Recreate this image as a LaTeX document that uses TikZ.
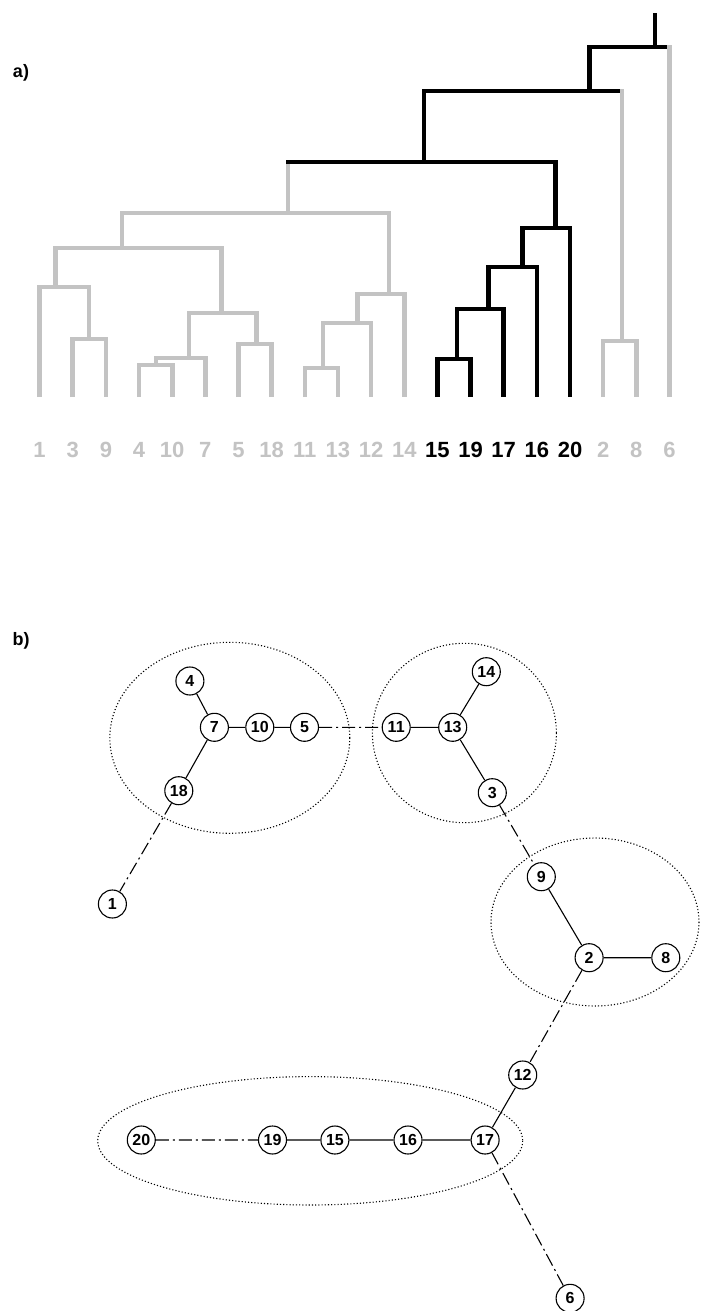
\documentclass[tikz,border=0pt]{standalone}
\usepackage{fontspec}
\setmainfont{Liberation Sans}
\usepackage{xcolor}
\usepackage{tikz}
\usetikzlibrary{positioning}

\definecolor{dendgray}{RGB}{195,195,195}

\begin{document}
\begin{tikzpicture}[x=1pt, y=-1pt,
    vert/.style={circle, draw, line width=1.1pt, minimum size=28pt, inner sep=0pt, font=\bfseries\fontsize{16}{16}\selectfont},
    link/.style={line width=1.1pt},
    jump/.style={line width=1.1pt, dash pattern=on 13pt off 4pt on 2pt off 4pt},
    group/.style={line width=1.1pt, dash pattern=on 1.1pt off 2.1pt},
    branch/.style={line width=4.6pt},
    leaf/.style={font=\bfseries\fontsize{22}{22}\selectfont, inner sep=0pt},
    panel/.style={font=\bfseries\fontsize{18}{18}\selectfont, inner sep=0pt}]
    \useasboundingbox (0,0) rectangle (706,1311);

    % a) dendrogram
    \node[panel] (pa) at (21,73) {a)};
    \foreach \lab/\col [count=\i from 0] in {1/dendgray,3/dendgray,9/dendgray,4/dendgray,10/dendgray,7/dendgray,5/dendgray,18/dendgray,11/dendgray,13/dendgray,12/dendgray,14/dendgray,15/black,19/black,17/black,16/black,20/black,2/dendgray,8/dendgray,6/dendgray}{
        \coordinate (L\lab) at ({39.6+33.15*\i},397);
        \node[leaf, text=\col] (t\lab) at ({39.6+33.15*\i},450) {\lab};
    }
    \coordinate (m39) at (88.9,339);
    \coordinate (m139) at (55.2,287);
    \coordinate (m410) at (156,365);
    \coordinate (m4107) at (189,358);
    \coordinate (m518) at (256.6,344);
    \coordinate (mB) at (221.7,313);
    \coordinate (mA) at (122,248);
    \coordinate (m1113) at (323,368);
    \coordinate (m12) at (357.5,323);
    \coordinate (m14) at (389,294);
    \coordinate (mG) at (288,213);
    \coordinate (m1519) at (457,359);
    \coordinate (m17) at (488.7,309);
    \coordinate (m16) at (522.6,267);
    \coordinate (m20) at (555.7,228);
    \coordinate (mX) at (424,162);
    \coordinate (m28) at (622,341);
    \coordinate (mY) at (589.6,91);
    \coordinate (mR) at (655,47);
    \coordinate (root) at (655,13);

    \draw[branch, dendgray] (L3) |- (m39) -| (L9);
    \draw[branch, dendgray] (L1) |- (m139) -| (m39);
    \draw[branch, dendgray] (L4) |- (m410) -| (L10);
    \draw[branch, dendgray] (m410) |- (m4107) -| (L7);
    \draw[branch, dendgray] (L5) |- (m518) -| (L18);
    \draw[branch, dendgray] (m4107) |- (mB) -| (m518);
    \draw[branch, dendgray] (m139) |- (mA) -| (mB);
    \draw[branch, dendgray] (L11) |- (m1113) -| (L13);
    \draw[branch, dendgray] (m1113) |- (m12) -| (L12);
    \draw[branch, dendgray] (m12) |- (m14) -| (L14);
    \draw[branch, dendgray] (mA) |- (mG) -| (m14);
    \draw[branch, dendgray] (L2) |- (m28) -| (L8);
    \draw[branch, dendgray] (mG) -- (mG |- mX);

    \draw[branch] (L15) |- (m1519) -| (L19);
    \draw[branch] (m1519) |- (m17) -| (L17);
    \draw[branch] (m17) |- (m16) -| (L16);
    \draw[branch] (m16) |- (m20) -| (L20);
    \draw[branch, line cap=rect] (mG |- mX) -| (m20);
    \draw[branch] (mX) |- (mY) -- (m28 |- mY);
    \draw[branch] (mY) |- (mR) -- (L6 |- mR);
    \draw[branch] (mR) -- (root);
    \draw[branch, dendgray, shorten >=-2.3pt] (m28) -- (m28 |- mY);
    \draw[branch, dendgray, shorten >=-2.3pt] (L6) -- (L6 |- mR);

    % b) graph
    \node[panel] (pb) at (21,641) {b)};
    \draw[group] (229.8,737.8) ellipse (120 and 95.5);
    \draw[group] (464.4,733) ellipse (92 and 89.7);
    \draw[group] (595,922) ellipse (104 and 84);
    \draw[group] (310.2,1140.8) ellipse (212.5 and 64.2);

    \node[vert] (n4) at (189.9,681) {4};
    \node[vert] (n7) at (214.4,727.3) {7};
    \node[vert] (n10) at (259.8,727.3) {10};
    \node[vert] (n5) at (304.5,727.3) {5};
    \node[vert] (n18) at (178.8,790.7) {18};
    \node[vert] (n11) at (396.2,727.3) {11};
    \node[vert] (n13) at (452.7,727.3) {13};
    \node[vert] (n14) at (486.3,671.7) {14};
    \node[vert] (n3) at (492.3,792.7) {3};
    \node[vert] (n1) at (112.4,904) {1};
    \node[vert] (n9) at (541.3,876.7) {9};
    \node[vert] (n2) at (589.1,957.7) {2};
    \node[vert] (n8) at (665.8,957.7) {8};
    \node[vert] (n12) at (522.7,1075) {12};
    \node[vert] (n20) at (141.3,1140) {20};
    \node[vert] (n19) at (272.5,1140) {19};
    \node[vert] (n15) at (334.9,1140) {15};
    \node[vert] (n16) at (408,1140) {16};
    \node[vert] (n17) at (485.1,1140) {17};
    \node[vert] (n6) at (570.1,1298.3) {6};

    \draw[link] (n4) -- (n7) (n7) -- (n10) (n10) -- (n5) (n7) -- (n18)
        (n11) -- (n13) (n13) -- (n14) (n13) -- (n3)
        (n9) -- (n2) (n2) -- (n8) (n12) -- (n17)
        (n19) -- (n15) (n15) -- (n16) (n16) -- (n17);
    \draw[jump] (n5) -- (n11) (n18) -- (n1) (n3) -- (n9) (n2) -- (n12)
        (n20) -- (n19) (n17) -- (n6);
\end{tikzpicture}
\end{document}
